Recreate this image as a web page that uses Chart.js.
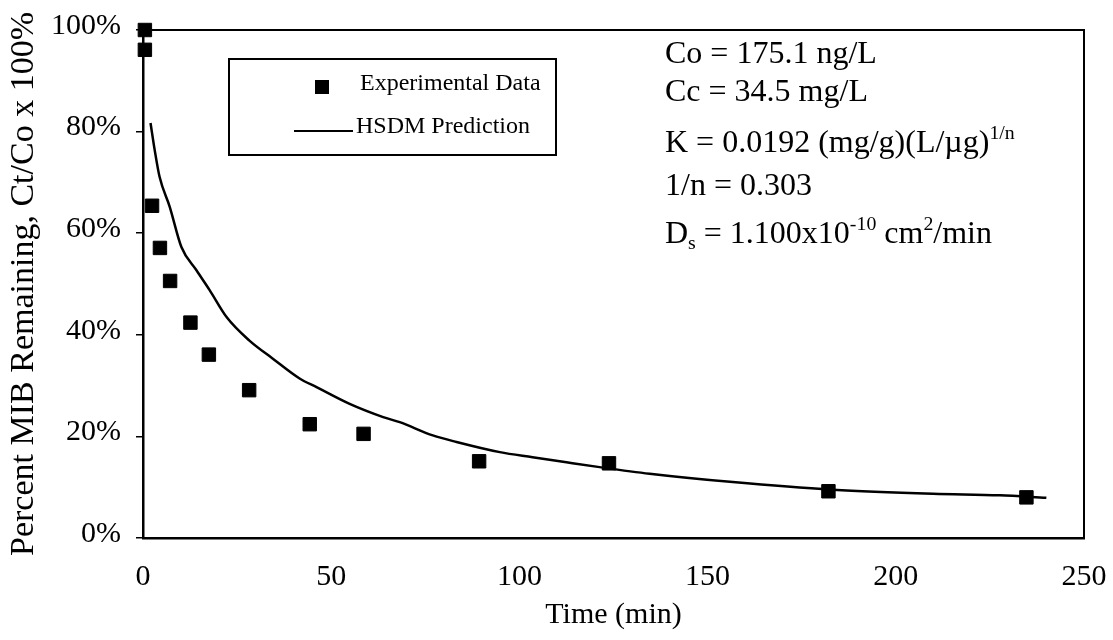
<!DOCTYPE html>
<html>
<head>
<meta charset="utf-8">
<script src="https://cdn.jsdelivr.net/npm/chart.js@4/dist/chart.umd.min.js"></script>
<style>
    html, body { margin: 0; padding: 0; background: #fff; overflow: hidden; }
    canvas { display: block; }
</style>
</head>
<body>
<canvas id="mib-chart" width="1113" height="640"></canvas>
<script>
// Experimental data: time (min) and percent MIB remaining
const expTime = [0.5, 0.5, 2.4, 4.5, 7.2, 12.6, 17.5, 28.2, 44.3, 58.6, 89.3, 123.8, 182.1, 234.7];
const expPercent = [100, 96.1, 65.4, 57.1, 50.6, 42.4, 36.1, 29.1, 22.4, 20.5, 15.1, 14.7, 9.2, 8.0];

// HSDM prediction curve
const hsdmTime = [2.0, 3.1, 4.4, 7.1, 10.2, 14.2, 17.7, 22.2, 28.2, 34.5, 41.6, 46.1, 54.9, 63.8, 68.2, 77, 83.3, 94.8, 103.5, 112.5, 121.3, 134.6, 156.7, 183.3, 209.9, 227.6, 240];
const hsdmPercent = [81.7, 76.4, 71.1, 65.2, 57.3, 52.7, 48.8, 43.5, 38.9, 35.3, 31.4, 29.7, 26.4, 23.8, 22.8, 20.2, 18.9, 16.9, 15.9, 14.9, 13.95, 12.65, 11.0, 9.5, 8.7, 8.4, 7.9];

// Axis ticks
const xTickValues = [0, 50, 100, 150, 200, 250];
const yTickValues = [0, 20, 40, 60, 80, 100];

// Model parameters shown in the plot (segments: n = normal, sup, sub)
const noteLines = [
    [['n', 'Co = 175.1 ng/L']],
    [['n', 'Cc = 34.5 mg/L']],
    [['n', 'K = 0.0192 (mg/g)(L/\u00b5g)'], ['sup', '1/n']],
    [['n', '1/n = 0.303']],
    [['n', 'D'], ['sub', 's'], ['n', ' = 1.100x10'], ['sup', '-10'], ['n', ' cm'], ['sup', '2'], ['n', '/min']]
];
const noteBaselines = [63, 101, 152, 195, 243];

const FONT = "'Liberation Serif', 'Times New Roman', serif";
Chart.defaults.color = '#000';
Chart.defaults.font.family = FONT;

function drawRich(ctx, segs, x, y, size) {
    segs.forEach(function(seg) {
        const kind = seg[0], text = seg[1];
        let fs = size, dy = 0;
        if (kind === 'sup') { fs = size * 0.62; dy = -size * 0.4; }
        if (kind === 'sub') { fs = size * 0.62; dy = size * 0.18; }
        ctx.font = fs + 'px ' + FONT;
        ctx.fillText(text, x, y + dy);
        x += ctx.measureText(text).width;
    });
}

// no extra margins for overhanging tick labels
function noLabelPadding(scale) {
    scale.paddingLeft = 0;
    scale.paddingRight = 0;
    scale.paddingTop = 0;
    scale.paddingBottom = 0;
}

// plot frame, legend box and parameter notes
const decorations = {
    id: 'decorations',
    afterDraw(chart) {
        const ctx = chart.ctx;
        const a = chart.chartArea;
        ctx.save();
        ctx.strokeStyle = '#000';
        ctx.fillStyle = '#000';

        // top and right frame lines
        ctx.lineWidth = 2;
        ctx.beginPath();
        ctx.moveTo(a.left, a.top);
        ctx.lineTo(a.right, a.top);
        ctx.lineTo(a.right, a.bottom);
        ctx.stroke();

        // legend
        const ds = chart.data.datasets;
        ctx.lineWidth = 2;
        ctx.strokeRect(229, 59, 327, 96);
        ctx.font = '24px ' + FONT;
        ctx.textBaseline = 'alphabetic';
        ctx.fillRect(322 - 7, 87 - 7, 14, 14);
        ctx.fillText(ds[0].label, 360, 90);
        ctx.lineWidth = 2.2;
        ctx.beginPath();
        ctx.moveTo(294, 131);
        ctx.lineTo(353, 131);
        ctx.stroke();
        ctx.fillText(ds[1].label, 356, 133);

        // parameter notes
        noteLines.forEach(function(line, i) {
            drawRich(ctx, line, 665, noteBaselines[i], 32);
        });
        ctx.restore();
    }
};

const mibCtx = document.getElementById('mib-chart').getContext('2d');
const mibChart = new Chart(mibCtx, {
    type: 'scatter',
    data: {
        datasets: [{
            label: 'Experimental Data',
            data: expTime.map((t, i) => ({ x: t, y: expPercent[i] })),
            pointStyle: 'rect',
            pointRadius: 9.5,
            backgroundColor: '#000',
            borderColor: '#000',
            borderWidth: 1,
            showLine: false,
            clip: false
        }, {
            label: 'HSDM Prediction',
            data: hsdmTime.map((t, i) => ({ x: t, y: hsdmPercent[i] })),
            showLine: true,
            borderColor: '#000',
            borderWidth: 2.5,
            pointRadius: 0,
            cubicInterpolationMode: 'monotone',
            fill: false
        }]
    },
    options: {
        responsive: false,
        animation: false,
        layout: {
            padding: { top: 30, right: 29, left: 0, bottom: 0 }
        },
        plugins: {
            legend: { display: false },
            tooltip: { enabled: false }
        },
        scales: {
            x: {
                type: 'linear',
                min: 0,
                max: 250,
                afterBuildTicks: function(scale) {
                    scale.ticks = xTickValues.map(v => ({ value: v }));
                },
                afterFit: function(scale) {
                    scale.height = 102;
                    noLabelPadding(scale);
                },
                grid: { drawOnChartArea: false, drawTicks: false },
                border: { display: true, color: '#000', width: 2.5 },
                ticks: {
                    padding: 21,
                    maxRotation: 0,
                    font: { size: 30 }
                },
                title: {
                    display: true,
                    text: 'Time (min)',
                    font: { size: 30 },
                    padding: { top: 0, bottom: 7 }
                }
            },
            y: {
                type: 'linear',
                min: 0,
                max: 100,
                afterBuildTicks: function(scale) {
                    scale.ticks = yTickValues.map(v => ({ value: v }));
                },
                afterFit: function(scale) {
                    scale.width = 143;
                    noLabelPadding(scale);
                },
                grid: {
                    drawOnChartArea: false,
                    drawTicks: true,
                    tickLength: 7,
                    color: '#000',
                    lineWidth: 1.5
                },
                border: { display: true, color: '#000', width: 2.5 },
                ticks: {
                    padding: 15,
                    labelOffset: -4,
                    font: { size: 30 },
                    callback: function(value) { return value + '%'; }
                },
                title: {
                    display: true,
                    text: 'Percent MIB Remaining, Ct/Co x 100%',
                    font: { size: 34 },
                    padding: { top: 4, bottom: 0 }
                }
            }
        }
    },
    plugins: [decorations]
});
</script>
</body>
</html>
